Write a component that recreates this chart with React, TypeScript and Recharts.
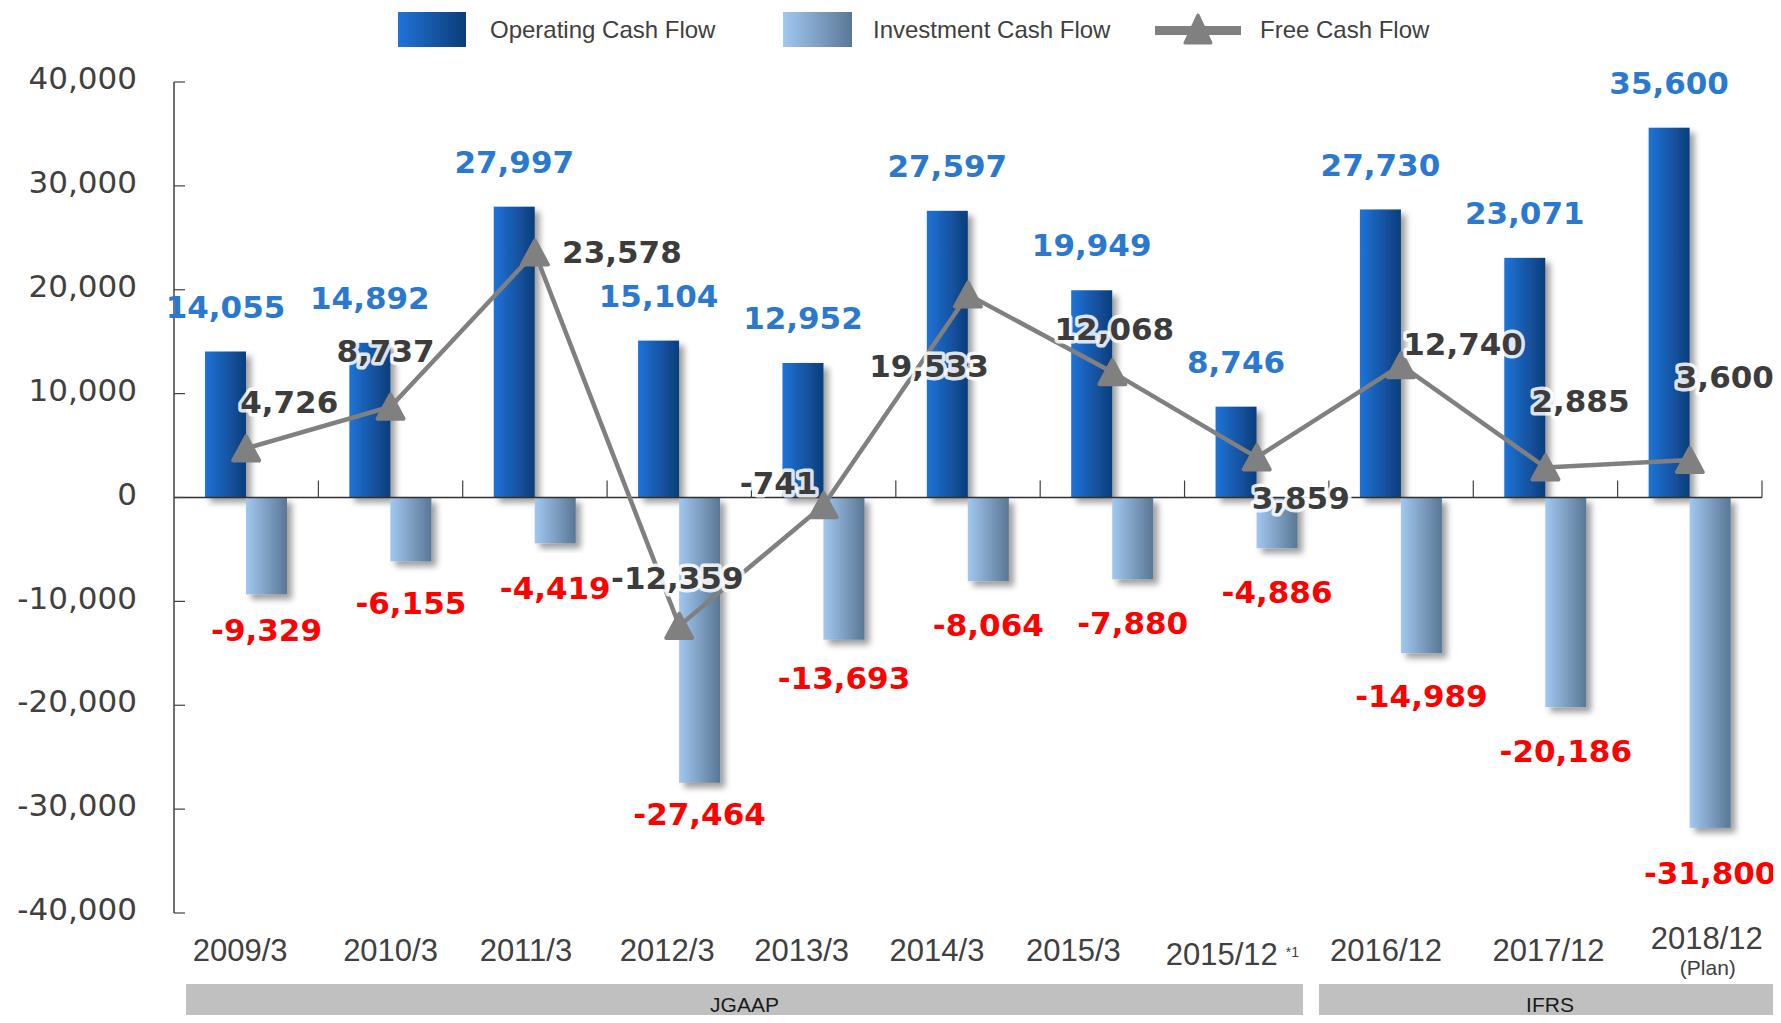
import { Bar, ComposedChart, LabelList, Line, ReferenceLine, XAxis, YAxis } from "recharts";

const periods = ["2009/3", "2010/3", "2011/3", "2012/3", "2013/3", "2014/3", "2015/3", "2015/12", "2016/12", "2017/12", "2018/12"];
const periodNotes = ["", "", "", "", "", "", "", "*1", "", "", "(Plan)"];
const operatingCF = [14055, 14892, 27997, 15104, 12952, 27597, 19949, 8746, 27730, 23071, 35600];
const investmentCF = [-9329, -6155, -4419, -27464, -13693, -8064, -7880, -4886, -14989, -20186, -31800];
const freeCF = [4726, 8737, 23578, -12359, -741, 19533, 12068, 3859, 12740, 2885, 3600];
const yTicks = [-40000, -30000, -20000, -10000, 0, 10000, 20000, 30000, 40000];

// label placement around each free cash flow marker (px)
const fcfLabelOffsets = [
  [43, -47], [-5, -56], [87, -1], [-2, -48], [-45, -22], [-39, 71],
  [2, -43], [44, 40], [62, -21], [35, -67], [35, -83]
];
const investLabelGaps = [35, 41, 44, 31, 38, 44, 43, 44, 43, 44, 45];
// horizontal nudge of the period labels under the axis (px)
const periodLabelShift = [-6, 0, -9, -12, -22, -31, -39, -35, -15, 3, 17];

const data = periods.map((period, i) => ({
  period,
  note: periodNotes[i],
  operating: operatingCF[i],
  investment: investmentCF[i],
  fcf: freeCF[i]
}));

const fmt = (v: number) => v.toLocaleString("en-US");
const valueFont = "'DejaVu Sans', Verdana, sans-serif";
const narrowFont = "'Liberation Sans', Arial, sans-serif";

const W = 1781;
const H = 1023;
const PLOT_LEFT = 174;
const PLOT_RIGHT = 1762;
const PLOT_TOP = 82;
const PLOT_BOTTOM = 913;
const Y_LABEL_GAP = 37;

const boxOf = (props: any) => {
  const vb = props.viewBox && props.viewBox.x != null ? props.viewBox : props;
  const x = Number(vb.x);
  const y = Number(vb.y);
  const w = Number(vb.width ?? 0);
  const h = Number(vb.height ?? 0);
  return { x, y, w, top: Math.min(y, y + h), bottom: Math.max(y, y + h) };
};

const ShadowBar = (fill: string) => (p: any) => {
  const h = Number(p.height);
  const y = h < 0 ? p.y + h : p.y;
  return <rect x={p.x} y={y} width={p.width} height={Math.abs(h)} fill={fill} filter="url(#barShadow)" />;
};

const OperatingLabel = (props: any) => {
  const b = boxOf(props);
  return (
    <text x={b.x + b.w / 2} y={b.top - 45} dy="0.36em" textAnchor="middle" fontFamily={valueFont}
      fontWeight="bold" fontSize={31} fill="#2B78CF">
      {fmt(Number(props.value))}
    </text>
  );
};

const InvestmentLabel = (props: any) => {
  const b = boxOf(props);
  const gap = investLabelGaps[props.index] ?? 42;
  return (
    <text x={b.x + b.w / 2} y={b.bottom + gap} dy="0.36em" textAnchor="middle" fontFamily={valueFont}
      fontWeight="bold" fontSize={31} fill="#FF0000">
      {fmt(Number(props.value))}
    </text>
  );
};

const FcfLabel = (props: any) => {
  const b = boxOf(props);
  const [dx, dy] = fcfLabelOffsets[props.index] ?? [0, -40];
  return (
    <text x={b.x + dx} y={b.y + dy} dy="0.36em" textAnchor="middle" fontFamily={valueFont}
      fontWeight="bold" fontSize={31} fill="#3C3C3C" stroke="#FFFFFF" strokeWidth={7}
      strokeLinejoin="round" paintOrder="stroke" strokeOpacity={0.85}>
      {fmt(Number(props.value))}
    </text>
  );
};

const TriangleDot = (p: any) => {
  const { cx, cy } = p;
  if (cx == null || cy == null) return null;
  return (
    <path key={`tri-${p.index}`} d={`M${cx},${cy - 12} L${cx + 13},${cy + 12} L${cx - 13},${cy + 12} Z`}
      fill="#808080" stroke="#808080" strokeWidth={4} strokeLinejoin="round" />
  );
};

const PeriodTick = (p: any) => {
  const { x, y, index } = p;
  const label = periods[index];
  const note = periodNotes[index];
  const cx = x + (periodLabelShift[index] ?? 0);
  if (note === "*1") {
    return (
      <g>
        <text x={cx} y={y + 41} dy="0.36em" textAnchor="middle" fontFamily={narrowFont} fontSize={31} fill="#404040">
          {label}
        </text>
        <text x={cx + 64} y={y + 39} dy="0.36em" textAnchor="start" fontFamily={narrowFont} fontSize={14} fill="#404040">
          {note}
        </text>
      </g>
    );
  }
  if (note) {
    return (
      <g>
        <text x={cx} y={y + 25} dy="0.36em" textAnchor="middle" fontFamily={narrowFont} fontSize={31} fill="#404040">
          {label}
        </text>
        <text x={cx + 1} y={y + 54} dy="0.36em" textAnchor="middle" fontFamily={narrowFont} fontSize={21} fill="#404040">
          {note}
        </text>
      </g>
    );
  }
  return (
    <text x={cx} y={y + 37} dy="0.36em" textAnchor="middle" fontFamily={narrowFont} fontSize={31} fill="#404040">
      {label}
    </text>
  );
};

// value label left of the axis plus a short tick pointing into the plot
const YTick = (p: any) => (
  <g>
    <line x1={p.x + Y_LABEL_GAP} x2={p.x + Y_LABEL_GAP + 11} y1={p.y} y2={p.y} stroke="#404040" strokeWidth={1.2} />
    <text x={p.x} y={p.y - 4} dy="0.36em" textAnchor="end" fontFamily={valueFont} fontSize={31} fill="#404040">
      {fmt(Number(p.payload.value))}
    </text>
  </g>
);

const Legend = () => (
  <div style={{ position: "absolute", top: 0, left: 0, width: W, height: 60, fontFamily: narrowFont, fontSize: 24, color: "#404040" }}>
    <div style={{ position: "absolute", left: 398, top: 12, width: 68, height: 35, background: "linear-gradient(to right, #1F73D8, #0C3C78)" }} />
    <div style={{ position: "absolute", left: 490, top: 17, lineHeight: "26px" }}>Operating Cash Flow</div>
    <div style={{ position: "absolute", left: 783, top: 12, width: 69, height: 35, background: "linear-gradient(to right, #A2C8F0, #5A7896)" }} />
    <div style={{ position: "absolute", left: 873, top: 17, lineHeight: "26px" }}>Investment Cash Flow</div>
    <svg style={{ position: "absolute", left: 1155, top: 12 }} width={88} height={36}>
      <rect x={0} y={14} width={86} height={9} fill="#808080" />
      <path d="M43,3 L56,31 L30,31 Z" fill="#808080" stroke="#808080" strokeWidth={3} strokeLinejoin="round" />
    </svg>
    <div style={{ position: "absolute", left: 1260, top: 17, lineHeight: "26px" }}>Free Cash Flow</div>
  </div>
);

const bandStyle = {
  position: "absolute" as const,
  top: 984,
  height: 44,
  background: "#C0C0C0",
  fontFamily: narrowFont,
  fontSize: 21,
  color: "#1A1A1A",
  display: "flex",
  alignItems: "flex-start",
  justifyContent: "center",
  paddingTop: 9,
  boxSizing: "border-box" as const
};

export default function App() {
  return (
    <div style={{ position: "relative", width: W, height: H, margin: -8, overflow: "hidden", background: "#FFFFFF" }}>
      <svg style={{ position: "absolute", left: 0, top: 0 }} width={220} height={12}>
        <text x={1} y={3} fontFamily="'Open Sans', sans-serif" fontSize={22} fill="#404040">(JPY Million)</text>
      </svg>
      <Legend />
      <ComposedChart
        width={W}
        height={H}
        data={data}
        barSize={41}
        barGap={0}
        margin={{ top: PLOT_TOP, right: W - PLOT_RIGHT, bottom: H - PLOT_BOTTOM - 60, left: 0 }}
      >
        <defs>
          <linearGradient id="opGrad" x1="0" y1="0" x2="1" y2="0">
            <stop offset="0%" stopColor="#1F73D8" />
            <stop offset="100%" stopColor="#0D3D7A" />
          </linearGradient>
          <linearGradient id="invGrad" x1="0" y1="0" x2="1" y2="0">
            <stop offset="0%" stopColor="#A2C8F0" />
            <stop offset="100%" stopColor="#597795" />
          </linearGradient>
          <filter id="barShadow" x="-30%" y="-10%" width="170%" height="130%">
            <feDropShadow dx={5} dy={5} stdDeviation={3} floodColor="#000000" floodOpacity={0.38} />
          </filter>
        </defs>
        <XAxis dataKey="period" height={60} axisLine={false} tickLine={false} tickSize={0} tickMargin={0}
          interval={0} tick={<PeriodTick />} />
        <YAxis
          width={PLOT_LEFT}
          domain={[-40000, 40000]}
          ticks={yTicks}
          interval={0}
          tickLine={false}
          tickSize={0}
          tickMargin={Y_LABEL_GAP}
          axisLine={{ stroke: "#404040", strokeWidth: 1.5 }}
          tick={<YTick />}
        />
        <ReferenceLine y={0} stroke="#303030" strokeWidth={1.6} />
        {periods.map((p) => (
          <ReferenceLine key={`xt-${p}`} position="end" segment={[{ x: p, y: 0 }, { x: p, y: 1640 }]}
            stroke="#404040" strokeWidth={1.2} />
        ))}
        <Bar dataKey="operating" shape={ShadowBar("url(#opGrad)")} isAnimationActive={false}>
          <LabelList dataKey="operating" content={OperatingLabel} />
        </Bar>
        <Bar dataKey="investment" shape={ShadowBar("url(#invGrad)")} isAnimationActive={false}>
          <LabelList dataKey="investment" content={InvestmentLabel} />
        </Bar>
        <Line dataKey="fcf" stroke="#808080" strokeWidth={4.5} dot={TriangleDot} activeDot={false}
          isAnimationActive={false}>
          <LabelList dataKey="fcf" content={FcfLabel} />
        </Line>
      </ComposedChart>
      <div style={{ ...bandStyle, left: 186, width: 1303 - 186 }}>JGAAP</div>
      <div style={{ ...bandStyle, left: 1319, width: W - 1319 }}>IFRS</div>
    </div>
  );
}
